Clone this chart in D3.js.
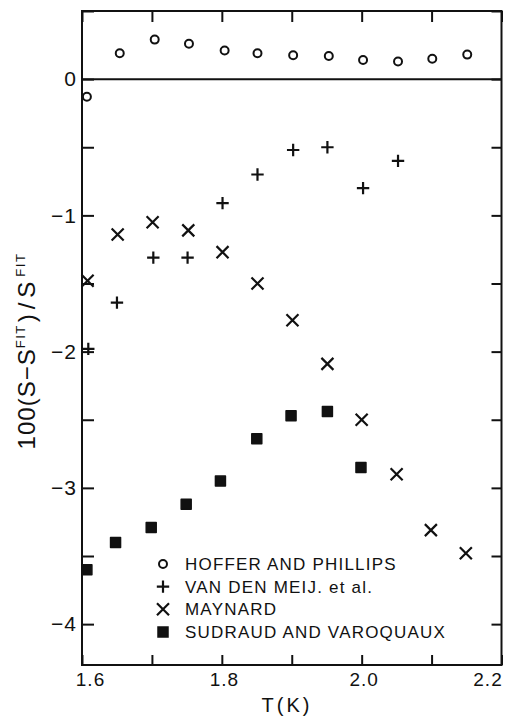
<!DOCTYPE html>
<html>
<head>
<meta charset="utf-8">
<script src="https://cdn.jsdelivr.net/npm/d3@7"></script>
<style>
  html, body { margin: 0; padding: 0; background: #fff; }
  text { font-family: "Liberation Sans", Arial, sans-serif; fill: #111; }
</style>
</head>
<body>
<div id="chart"></div>
<script>
// Data: deviation from fit, 100(S - Sfit)/Sfit, vs T (K)
var hofferT   = [1.607, 1.654, 1.704, 1.753, 1.804, 1.851, 1.902, 1.953, 2.002, 2.052, 2.101, 2.151];
var hofferDev = [-0.13, 0.19, 0.29, 0.26, 0.21, 0.19, 0.175, 0.17, 0.14, 0.13, 0.15, 0.18];

var meijT   = [1.609, 1.65, 1.702, 1.751, 1.801, 1.851, 1.902, 1.951, 2.002, 2.052];
var meijDev = [-1.98, -1.64, -1.31, -1.31, -0.91, -0.70, -0.52, -0.50, -0.80, -0.60];

var maynardT   = [1.608, 1.651, 1.701, 1.752, 1.801, 1.851, 1.901, 1.951, 2.0, 2.05, 2.099, 2.149];
var maynardDev = [-1.48, -1.14, -1.05, -1.11, -1.27, -1.50, -1.77, -2.09, -2.50, -2.90, -3.31, -3.48];

var sudraudT   = [1.607, 1.648, 1.699, 1.749, 1.798, 1.85, 1.899, 1.951, 1.999];
var sudraudDev = [-3.60, -3.40, -3.29, -3.12, -2.95, -2.64, -2.47, -2.44, -2.85];

var legendLabels = ["HOFFER AND PHILLIPS", "VAN DEN MEIJ. et al.", "MAYNARD", "SUDRAUD AND VAROQUAUX"];
var xLabelTicks = [1.6, 1.8, 2.0, 2.2];
var yLabelTicks = [0, -1, -2, -3, -4];

var W = 506, H = 717;
var margin = { top: 11, right: 4.5, bottom: 52, left: 82 };

var x = d3.scaleLinear().domain([1.6, 2.2]).range([margin.left, W - margin.right]);
var y = d3.scaleLinear().domain([-4.3, 0.5]).range([H - margin.bottom, margin.top]);

var svg = d3.select("#chart").append("svg")
    .attr("width", W)
    .attr("height", H);

svg.append("rect").attr("width", W).attr("height", H).attr("fill", "#fff");

// ticks every 0.1 K and every 0.5 in y, all pointing inward
var xTicks = d3.range(0, 7).map(i => 1.6 + i * 0.1);
var yTicks = d3.range(0, 10).map(i => 0.5 - i * 0.5);

var fmtX = d3.format(".1f");
var axBottom = svg.append("g")
    .attr("transform", "translate(0," + y(-4.3) + ")")
    .call(d3.axisBottom(x).tickValues(xTicks).tickSizeInner(-10).tickSizeOuter(0).tickPadding(8)
        .tickFormat(d => xLabelTicks.some(v => Math.abs(v - d) < 1e-6) ? fmtX(d) : ""));

var axTop = svg.append("g")
    .attr("transform", "translate(0," + y(0.5) + ")")
    .call(d3.axisTop(x).tickValues(xTicks).tickSizeInner(-11).tickSizeOuter(0).tickFormat(""));

var axLeft = svg.append("g")
    .attr("transform", "translate(" + x(1.6) + ",0)")
    .call(d3.axisLeft(y).tickValues(yTicks).tickSizeInner(-12).tickSizeOuter(0).tickPadding(5)
        .tickFormat(d => yLabelTicks.indexOf(d) >= 0 ? d3.format("d")(d) : ""));

var axRight = svg.append("g")
    .attr("transform", "translate(" + x(2.2) + ",0)")
    .call(d3.axisRight(y).tickValues(yTicks).tickSizeInner(-10).tickSizeOuter(0).tickFormat(""));

[axBottom, axTop, axLeft, axRight].forEach(g => {
    g.select(".domain").remove();
    g.selectAll(".tick line").attr("stroke", "#111").attr("stroke-width", 2);
});

axBottom.selectAll(".tick text").attr("font-size", 19).attr("font-family", null).attr("fill", "#111")
    .attr("letter-spacing", 1)
    .attr("dx", d => Math.abs(d - 1.6) < 1e-6 ? 8 : (Math.abs(d - 2.2) < 1e-6 ? -14 : 2));
axLeft.selectAll(".tick text").attr("font-size", 21).attr("font-family", null).attr("fill", "#111")
    .attr("letter-spacing", 1);

// frame and zero line
svg.append("rect")
    .attr("x", x(1.6)).attr("y", y(0.5))
    .attr("width", x(2.2) - x(1.6)).attr("height", y(-4.3) - y(0.5))
    .attr("fill", "none").attr("stroke", "#111").attr("stroke-width", 2);

svg.append("line")
    .attr("x1", x(1.6)).attr("x2", x(2.2))
    .attr("y1", y(0)).attr("y2", y(0))
    .attr("stroke", "#111").attr("stroke-width", 2);

// markers
var circleSym = d3.symbol().type(d3.symbolCircle).size(50);
var plusSym = d3.symbol().type(d3.symbolPlus).size(52);
var timesSym = d3.symbol().type(d3.symbolTimes).size(96);
var squareSym = d3.symbol().type(d3.symbolSquare).size(100);

function drawSeries(ts, vs, sym, filled, sw) {
    svg.append("g").selectAll("path")
        .data(d3.zip(ts, vs))
        .join("path")
        .attr("transform", d => "translate(" + x(d[0]) + "," + y(d[1]) + ")")
        .attr("d", sym)
        .attr("fill", filled ? "#111" : "none")
        .attr("stroke", "#111")
        .attr("stroke-width", sw)
        .attr("stroke-linejoin", "round");
}

drawSeries(hofferT, hofferDev, circleSym, false, 2);
drawSeries(meijT, meijDev, plusSym, false, 2.2);
drawSeries(maynardT, maynardDev, timesSym, false, 2.2);
drawSeries(sudraudT, sudraudDev, squareSym, true, 1.5);

// legend
var legendSyms = [
    { sym: circleSym, filled: false, sw: 2 },
    { sym: plusSym, filled: false, sw: 2.2 },
    { sym: timesSym, filled: false, sw: 2.2 },
    { sym: squareSym, filled: true, sw: 1.5 }
];
var legendY = d3.scalePoint().domain(legendLabels).range([564, 632]);
var legend = svg.append("g");
legendLabels.forEach((lab, i) => {
    var s = legendSyms[i];
    legend.append("path")
        .attr("transform", "translate(163," + legendY(lab) + ")")
        .attr("d", s.sym)
        .attr("fill", s.filled ? "#111" : "none")
        .attr("stroke", "#111")
        .attr("stroke-width", s.sw);
    legend.append("text")
        .attr("x", 185)
        .attr("y", legendY(lab))
        .attr("dy", "0.36em")
        .attr("font-size", 17)
        .attr("letter-spacing", 1.2)
        .text(lab);
});

// axis titles
svg.append("text")
    .attr("x", 287).attr("y", 712)
    .attr("text-anchor", "middle")
    .attr("font-size", 20)
    .attr("letter-spacing", 3)
    .text("T(K)");

var yTitle = svg.append("text")
    .attr("transform", "translate(35,351) rotate(-90)")
    .attr("text-anchor", "middle")
    .attr("font-size", 24)
    .attr("letter-spacing", 1);
yTitle.append("tspan").text("100(S\u2212S");
yTitle.append("tspan").attr("font-size", 13).attr("dy", -10).attr("letter-spacing", 1.5).text("FIT");
yTitle.append("tspan").attr("dy", 10).attr("dx", 2).attr("letter-spacing", 5).text(")/S");
yTitle.append("tspan").attr("font-size", 13).attr("dy", -10).attr("letter-spacing", 1.5).text("FIT");
</script>
</body>
</html>
